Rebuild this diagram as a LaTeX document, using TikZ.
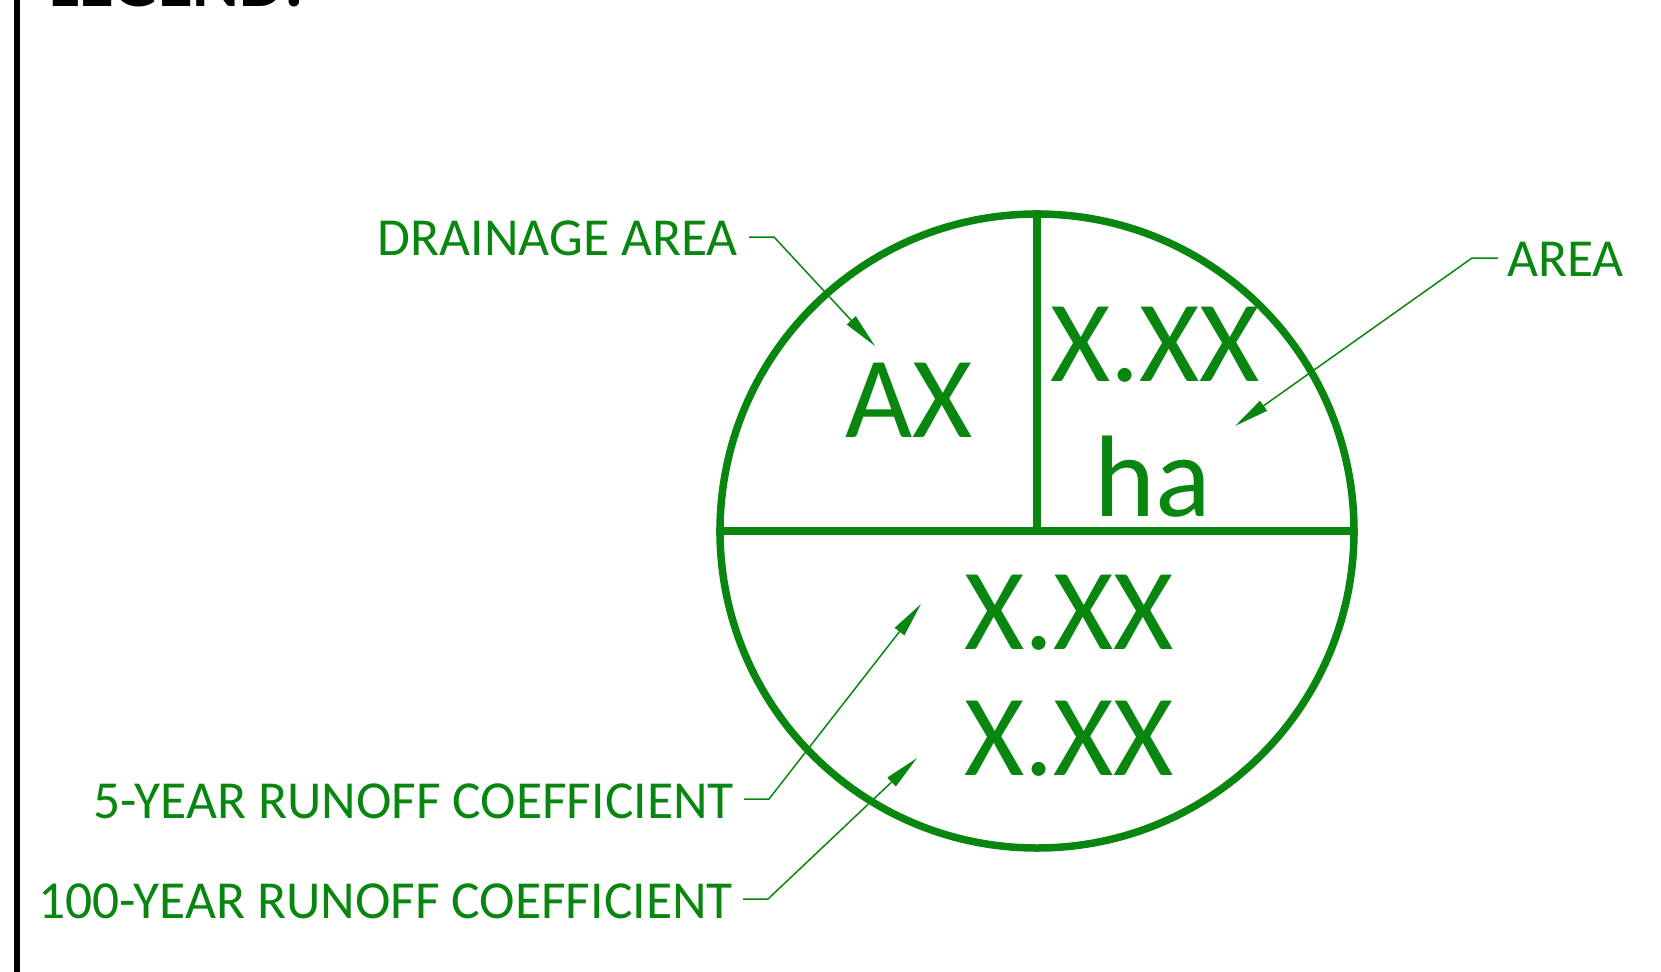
\documentclass[tikz,border=0pt]{standalone}
\usepackage{fontspec}
\setmainfont{Carlito}
\usetikzlibrary{arrows.meta}
\definecolor{dgreen}{RGB}{8,134,16}
\tikzset{
  big/.style={inner sep=0pt, anchor=base, text=dgreen, font=\fontsize{116}{116}\selectfont},
  lbl/.style={inner sep=0pt, text=dgreen, font=\fontsize{53.5}{54}\selectfont},
  leader/.style={draw=dgreen, line width=1.5pt, -{Triangle[length=35pt,width=12pt]}},
  frame/.style={draw=dgreen, line width=7.5pt},
  divider/.style={draw=dgreen, line width=7.5pt},
}
\begin{document}
\begin{tikzpicture}[x=1pt,y=-1pt]
\useasboundingbox (0,0) rectangle (1661,971);
% left black border line and legend title
\draw[line width=6pt] (16.5,-5) -- (16.5,976);
\node[inner sep=0pt, anchor=base west, font=\bfseries\fontsize{71}{71}\selectfont] (legend) at (49,7) {LEGEND:};
% circle symbol
\coordinate (c) at (1037,531);
\node[circle, frame, minimum size=634pt, inner sep=0pt] (circ) at (c) {};
\draw[divider] (circ.west) -- (circ.east);
\draw[divider] (circ.north) -- (c);
% texts in circle
\node[big] (ax) at (909,437) {AX};
\node[big] (area) at (1155,381) {X.XX};
\node[big] (ha) at (1153,516) {ha};
\node[big] (c5) at (1069,649) {X.XX};
\node[big] (c100) at (1069,775) {X.XX};
% labels
\node[lbl, anchor=base east] (lda) at (738,255) {DRAINAGE AREA};
\node[lbl, anchor=base west] (lar) at (1507,276) {AREA};
\node[lbl, anchor=base east] (l5) at (734,818) {5-YEAR RUNOFF COEFFICIENT};
\node[lbl, anchor=base east] (l100) at (733,918) {100-YEAR RUNOFF COEFFICIENT};
% leader coordinates
\coordinate (da0) at (749,237); \coordinate (da1) at (774,237); \coordinate (dat) at (875,346);
\coordinate (ar0) at (1498,258); \coordinate (ar1) at (1472,258); \coordinate (art) at (1235,426);
\coordinate (f0) at (744,799); \coordinate (f1) at (769,799); \coordinate (ft) at (921,604);
\coordinate (h0) at (743,899); \coordinate (h1) at (768,899); \coordinate (ht) at (917,758);
\draw[leader] (da0) -- (da1) -- (dat);
\draw[leader] (ar0) -- (ar1) -- (art);
\draw[leader] (f0) -- (f1) -- (ft);
\draw[leader] (h0) -- (h1) -- (ht);
\end{tikzpicture}
\end{document}
